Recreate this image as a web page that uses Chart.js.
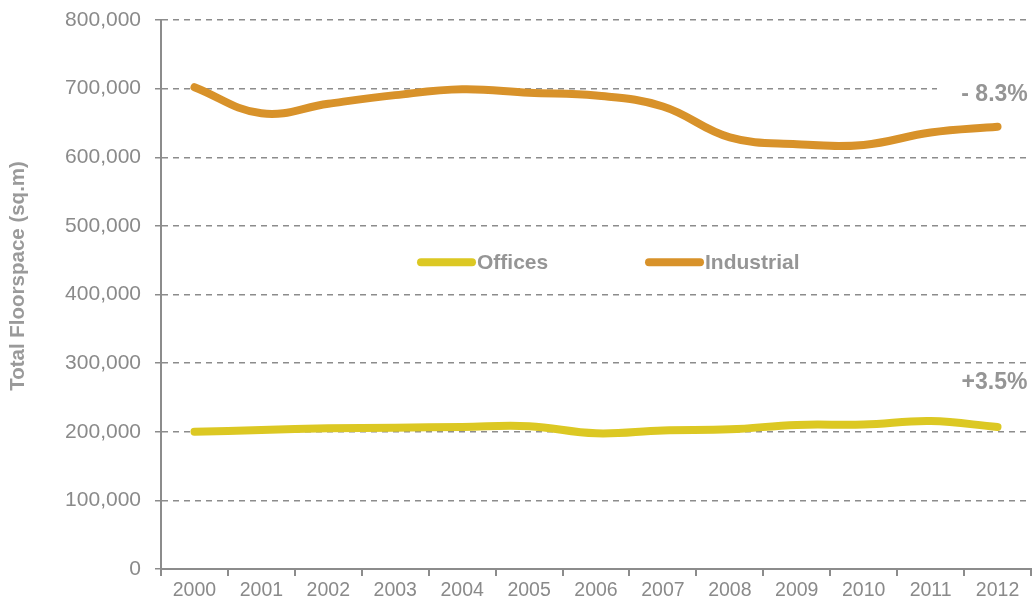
<!DOCTYPE html>
<html>
<head>
<meta charset="utf-8">
<script src="https://cdn.jsdelivr.net/npm/chart.js@4.4.0/dist/chart.umd.min.js"></script>
<style>
html,body{margin:0;padding:0;background:#fff;}
#wrap{width:1034px;height:605px;position:relative;}
</style>
</head>
<body>
<div id="wrap"><canvas id="c" width="1034" height="605"></canvas></div>
<script>
const years = ['2000','2001','2002','2003','2004','2005','2006','2007','2008','2009','2010','2011','2012'];
const offices = [200000,202500,205000,206000,207000,208000,197700,202000,203500,210000,210500,215500,207000];
const industrial = [702000,664000,678000,690500,699000,694000,690000,674000,629000,619000,618000,636000,644500];
const changeLabels = ['+3.5%','- 8.3%'];
const yTicks = [0,100000,200000,300000,400000,500000,600000,700000,800000];
const yTitle = 'Total Floorspace (sq.m)';

const GREY = '#8c8c8c';
const TEXT = '#959595';
const FONT = '"Liberation Sans", Arial, sans-serif';

const overlay = {
  id:'overlay',
  beforeDatasetsDraw(chart){
    const ctx = chart.ctx, y = chart.scales.y, x = chart.scales.x;
    ctx.save();
    ctx.font = 'bold 23px ' + FONT;
    ctx.textAlign = 'center';
    ctx.textBaseline = 'middle';
    chart.data.datasets.forEach((ds, i) => {
      const last = ds.data[ds.data.length-1];
      const px = x.getPixelForValue(ds.data.length-1) - 3;
      const py = y.getPixelForValue(last) + (i===1 ? -32 : -44);
      ctx.fillStyle = '#fff';
      ctx.fillRect(937, py-17, 100, 34);
      ctx.fillStyle = TEXT;
      ctx.fillText(changeLabels[i], px, py);
    });
    ctx.restore();
  },
  afterDatasetsDraw(chart){
    const ctx = chart.ctx;
    const y = chart.scales.y;
    const ly = y.getPixelForValue(447000);
    const items = [{x:418},{x:646}];
    ctx.save();
    ctx.font = 'bold 21px ' + FONT;
    ctx.textBaseline = 'middle';
    chart.data.datasets.forEach((ds,i)=>{
      const x0 = items[i].x;
      ctx.strokeStyle = ds.borderColor;
      ctx.lineWidth = 8;
      ctx.lineCap = 'round';
      ctx.beginPath();
      ctx.moveTo(x0+3, ly);
      ctx.lineTo(x0+54, ly);
      ctx.stroke();
      ctx.fillStyle = TEXT;
      ctx.fillText(ds.label, x0+59, ly+1);
    });
    // y-axis title
    ctx.translate(18, y.getPixelForValue(427000));
    ctx.rotate(-Math.PI/2);
    ctx.textAlign = 'center';
    ctx.font = 'bold 20.5px ' + FONT;
    ctx.fillStyle = '#9a9a9a';
    ctx.fillText(yTitle, 0, 0);
    ctx.restore();
  }
};

new Chart(document.getElementById('c'), {
  type:'line',
  data:{
    labels: years,
    datasets:[
      {label:'Offices', data:offices, borderColor:'#dcc823', backgroundColor:'#dcc823', borderWidth:8, pointRadius:0, tension:0.4, borderCapStyle:'round', borderJoinStyle:'round'},
      {label:'Industrial', data:industrial, borderColor:'#d8922a', backgroundColor:'#d8922a', borderWidth:8, pointRadius:0, tension:0.4, borderCapStyle:'round', borderJoinStyle:'round'}
    ]
  },
  options:{
    responsive:false,
    animation:false,
    devicePixelRatio:1,
    layout:{padding:{top:20,right:3,left:0,bottom:0}},
    plugins:{legend:{display:false}, tooltip:{enabled:false}},
    scales:{
      x:{
        offset:true,
        grid:{offset:true, drawOnChartArea:false, drawTicks:true, tickLength:7, color:GREY, lineWidth:2},
        border:{display:true, color:GREY, width:2},
        ticks:{color:'#8a8a8a', font:{family:FONT, size:19.5}, padding:3, maxRotation:0},
        afterFit(s){ s.height = 36; s.paddingLeft = 0; s.paddingRight = 0; }
      },
      y:{
        min:0, max:800000,
        afterBuildTicks(s){ s.ticks = yTicks.map(v=>({value:v})); },
        grid:{color:GREY, lineWidth:1.5, tickLength:6, drawTicks:true},
        border:{display:true, color:GREY, width:2, dash:[6,5]},
        ticks:{color:'#8a8a8a', padding:14, font:{family:FONT, size:21},
          callback:(v)=>v.toLocaleString('en-US')},
        title:{display:false},
        afterFit(s){ s.width = 161; s.paddingTop = 0; s.paddingBottom = 0; }
      }
    }
  },
  plugins:[overlay]
});
</script>
</body>
</html>
